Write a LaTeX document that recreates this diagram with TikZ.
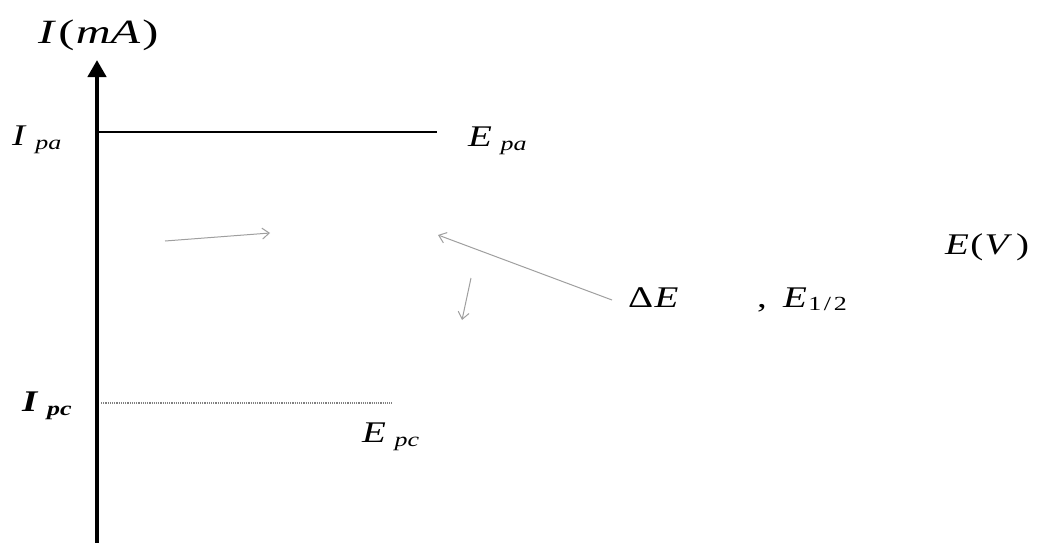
\documentclass[tikz,border=0pt]{standalone}
\usepackage{fontspec}
\usepackage{graphicx}
\setmainfont{Liberation Serif}
\usetikzlibrary{arrows.meta}
\newcommand{\wide}[1]{\scalebox{1.3}[1]{#1}}
\newcommand{\subtxt}[2]{\wide{\textit{#1}\hspace{0.22em}\raisebox{-4pt}{\fontsize{20}{20}\selectfont\textit{#2}}}}
\begin{document}
\begin{tikzpicture}[x=1pt,y=-1pt,
  lbl/.style={inner sep=0pt, font=\fontsize{30}{36}\selectfont},
  big/.style={inner sep=0pt, font=\fontsize{34}{40}\selectfont},
  ptr/.style={draw=gray!75, line width=1pt, -{Straight Barb[length=7pt,width=11pt]}}]
\useasboundingbox (0,0) rectangle (1046,543);
\coordinate (axb) at (97,545);
\coordinate (axt) at (97,60);
\draw[line width=4.5pt, -{Triangle[length=17pt,width=18pt]}] (axb) -- (axt);
\node[big, anchor=base west] (ima) at (38,44) {\scalebox{1.42}[1]{\textit{I}\kern1.5pt(\kern1pt\textit{mA}\kern1.5pt)}};
\node[lbl, anchor=base west] (ipa) at (12,145) {\subtxt{I}{pa}};
\coordinate (pa0) at (99,132);
\coordinate (pa1) at (437,132);
\draw[line width=1.2pt] (pa0) -- (pa1);
\node[lbl, anchor=base west] (epa) at (468,146) {\subtxt{E}{pa}};
\node[lbl, anchor=base west] (ipc) at (22,411) {\bfseries\subtxt{I}{pc}};
\coordinate (pc0) at (101,403);
\coordinate (pc1) at (392,403);
\draw[gray, line width=1.2pt, densely dotted] (pc0) -- (pc1);
\node[lbl, anchor=base west] (epc) at (362,442) {\subtxt{E}{pc}};
\node[lbl, anchor=base west] (de) at (628,307) {\wide{Δ\kern1pt\textit{E}}};
\node[lbl, anchor=base west] (cm) at (757,307) {\wide{,}};
\node[lbl, anchor=base west] (eh) at (783,307) {\wide{\textit{E}\kern1pt\raisebox{-3pt}{\fontsize{20}{20}\selectfont 1\kern2pt/\kern2pt2}}};
\node[lbl, anchor=base west] (ev) at (945,254) {\wide{\textit{E}\kern1pt(\kern1pt\textit{V}\kern3pt)}};
\coordinate (a1s) at (165,241);
\coordinate (a1e) at (270,233);
\draw[ptr] (a1s) -- (a1e);
\coordinate (a2s) at (612,300);
\coordinate (a2e) at (438,235);
\draw[ptr] (a2s) -- (a2e);
\coordinate (a3s) at (471,278);
\coordinate (a3e) at (462,320);
\draw[ptr] (a3s) -- (a3e);
\end{tikzpicture}
\end{document}
